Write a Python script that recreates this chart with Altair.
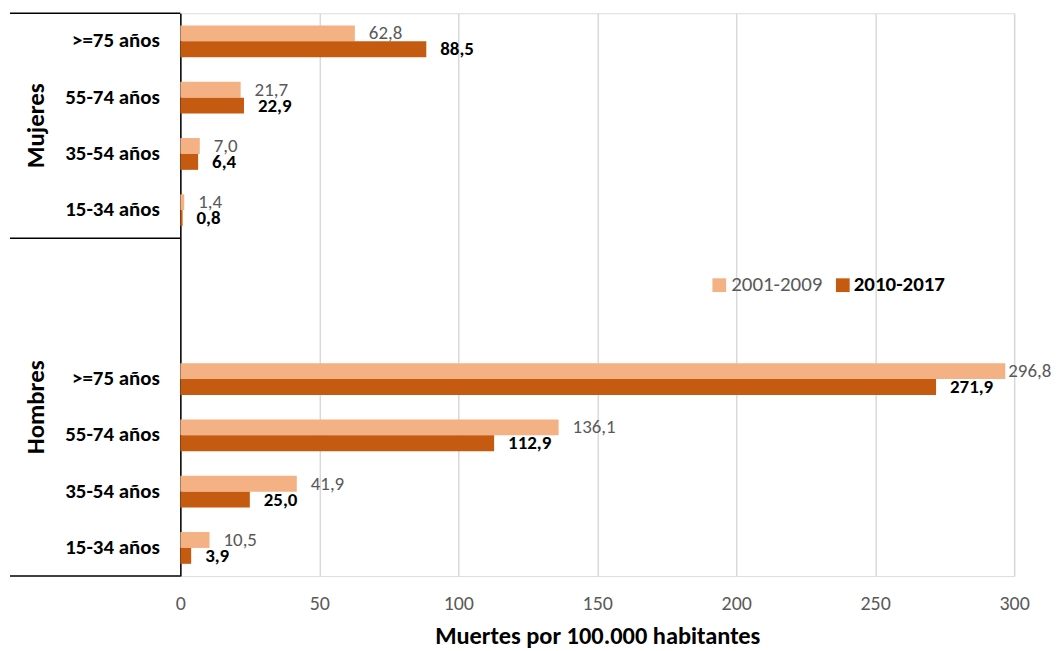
import altair as alt
import pandas as pd

# ---- data ----
groups = ["Mujeres"] * 4 + ["Hombres"] * 4
ages = [">=75 años", "55-74 años", "35-54 años", "15-34 años"] * 2
v_2001_2009 = [62.8, 21.7, 7.0, 1.4, 296.8, 136.1, 41.9, 10.5]
v_2010_2017 = [88.5, 22.9, 6.4, 0.8, 271.9, 112.9, 25.0, 3.9]
series = ["2001-2009", "2010-2017"]
x_ticks = [0, 50, 100, 150, 200, 250, 300]
x_title = "Muertes por 100.000 habitantes"

keys = [g + "|" + a for g, a in zip(groups, ages)]
row_order = keys[:4] + ["gap1|", "gap2|"] + keys[4:]

rows = []
for k, a, b in zip(keys, v_2001_2009, v_2010_2017):
    rows.append({"key": k, "serie": series[0], "value": a})
    rows.append({"key": k, "serie": series[1], "value": b})
df = pd.DataFrame(rows)
df["label"] = df["value"].map(lambda v: f"{v:.1f}".replace(".", ","))

LIGHT = "#F4B183"
DARK = "#C55A11"
FONT = "Carlito, Calibri, Lato, sans-serif"


def Y(bp=None):
    kw = dict(
        sort=row_order,
        scale=alt.Scale(domain=row_order, paddingInner=0, paddingOuter=0),
        axis=alt.Axis(
            title=None,
            labelExpr="split(datum.value, '|')[1]",
            labelFont=FONT,
            labelFontSize=21,
            labelFontWeight="bold",
            labelColor="#000000",
            labelPadding=21,
            ticks=False,
            grid=False,
            domain=True,
            domainColor="#000000",
            domainWidth=1.5,
        ),
    )
    if bp is not None:
        kw["bandPosition"] = bp
    return alt.Y("key:N", **kw)


X = alt.X(
    "value:Q",
    scale=alt.Scale(domain=[0, 300], nice=False, zero=True),
    axis=alt.Axis(
        values=x_ticks,
        title=x_title,
        titleFont=FONT,
        titleFontSize=24.5,
        titleFontWeight="bold",
        titleColor="#000000",
        titlePadding=11,
        labelFont=FONT,
        labelFontSize=20,
        labelColor="#595959",
        labelPadding=18,
        labelFlush=False,
        ticks=False,
        domain=False,
        grid=True,
        gridColor="#D9D9D9",
        gridWidth=1.5,
    ),
)

YOFF = alt.YOffset(
    "serie:N",
    sort=series,
    scale=alt.Scale(domain=series, paddingInner=0, paddingOuter=0.77),
)
COLOR = alt.Color(
    "serie:N", scale=alt.Scale(domain=series, range=[LIGHT, DARK]), legend=None
)

base = alt.Chart(df)

bars = base.mark_bar().encode(x=X, y=Y(), yOffset=YOFF, color=COLOR)

labels_a = (
    base.transform_filter((alt.datum.serie == series[0]) & (alt.datum.value < 280))
    .mark_text(align="left", baseline="middle", dx=14, font=FONT, fontSize=19,
               color="#595959")
    .encode(x=X, y=Y(), yOffset=YOFF, text="label:N")
)
labels_a_edge = (
    base.transform_filter((alt.datum.serie == series[0]) & (alt.datum.value >= 280))
    .mark_text(align="left", baseline="middle", dx=3, font=FONT, fontSize=19,
               color="#595959")
    .encode(x=X, y=Y(), yOffset=YOFF, text="label:N")
)
labels_b = (
    base.transform_filter(alt.datum.serie == series[1])
    .mark_text(align="left", baseline="middle", dx=14, font=FONT, fontSize=19,
               fontWeight="bold", color="#000000")
    .encode(x=X, y=Y(), yOffset=YOFF, text="label:N")
)

# group labels (Mujeres / Hombres)
grp_df = pd.DataFrame({"g": ["Mujeres", "Hombres"],
                       "key": [keys[1], keys[4]]})
grp = (
    alt.Chart(grp_df)
    .mark_text(angle=270, align="center", baseline="middle", font=FONT,
               fontSize=25, fontWeight="bold", color="#000000")
    .encode(y=Y(1), x=alt.value(-145), text="g:N")
)

# category group borders
top_df = pd.DataFrame({"key": [keys[0], "gap1|"]})
bot_df = pd.DataFrame({"key": [keys[-1]]})
rule_top = (
    alt.Chart(top_df)
    .mark_rule(color="#000000", strokeWidth=1.5)
    .encode(y=Y(0), x=alt.value(-171), x2=alt.value(0))
)
rule_bot = (
    alt.Chart(bot_df)
    .mark_rule(color="#000000", strokeWidth=1.5)
    .encode(y=Y(1), x=alt.value(-171), x2=alt.value(0))
)

# manual legend
leg_a = pd.DataFrame({"serie": [series[0]]})
leg_b = pd.DataFrame({"serie": [series[1]]})
sq_a = alt.Chart(leg_a).mark_square(size=190, opacity=1).encode(
    x=alt.value(541), y=alt.value(273), color=COLOR)
sq_b = alt.Chart(leg_b).mark_square(size=190, opacity=1).encode(
    x=alt.value(665), y=alt.value(273), color=COLOR)
tx_a = alt.Chart(leg_a).mark_text(align="left", baseline="middle", font=FONT,
                                  fontSize=21, color="#595959").encode(
    x=alt.value(553), y=alt.value(273), text="serie:N")
tx_b = alt.Chart(leg_b).mark_text(align="left", baseline="middle", font=FONT,
                                  fontSize=21, fontWeight="bold",
                                  color="#000000").encode(
    x=alt.value(676), y=alt.value(273), text="serie:N")

chart = (
    alt.layer(bars, labels_a, labels_a_edge, labels_b, grp, rule_top, rule_bot,
              sq_a, sq_b, tx_a, tx_b)
    .properties(
        width=837,
        height=565,
        autosize=alt.AutoSizeParams(type="none"),
        padding={"left": 173, "top": 4, "right": 38, "bottom": 82},
    )
    .configure_view(stroke=None)
    .configure(font=FONT)
)

chart.save("out.html", embed_options={"renderer": "svg", "actions": False})
